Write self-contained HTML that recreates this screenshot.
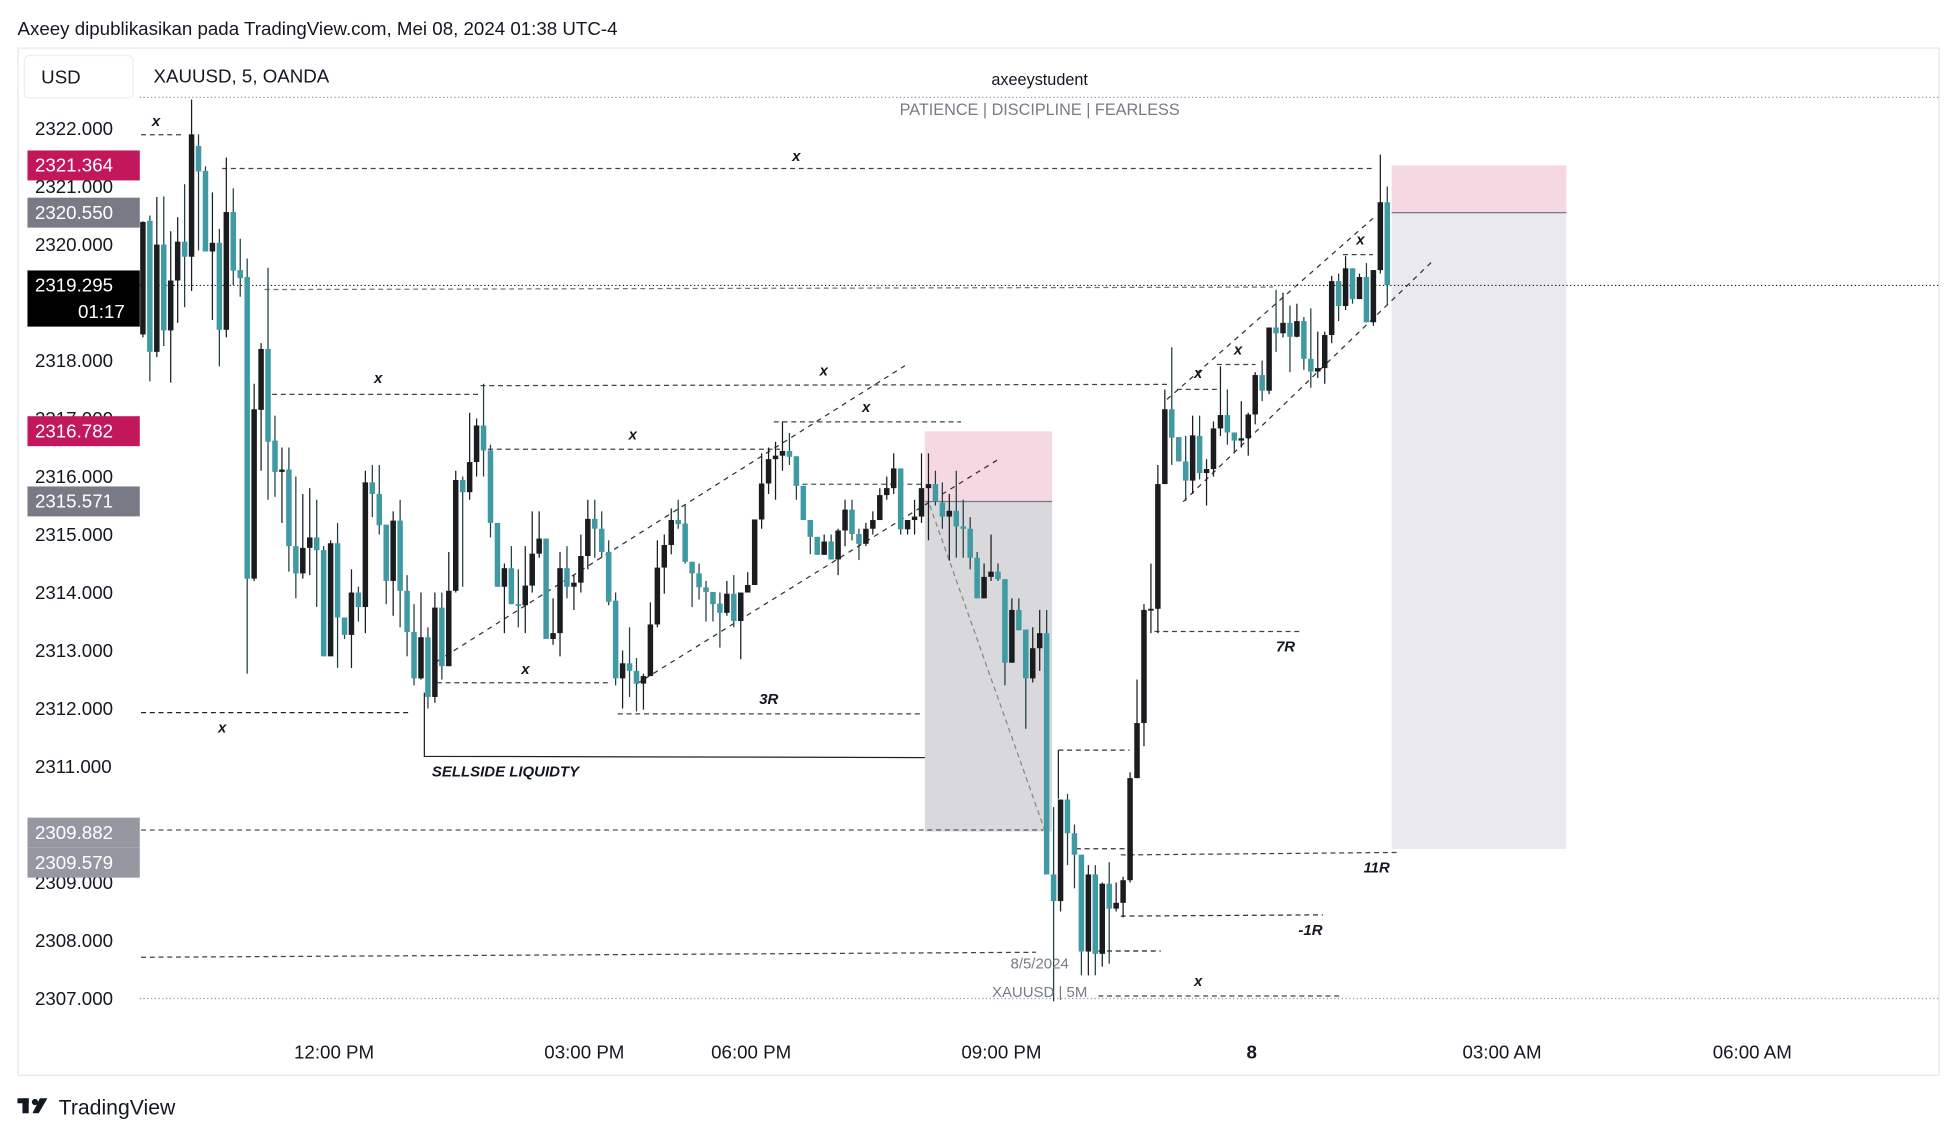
<!DOCTYPE html>
<html><head><meta charset="utf-8"><title>XAUUSD 5 chart</title>
<style>
html,body{margin:0;padding:0;background:#fff;}
svg{display:block;font-family:"Liberation Sans",Arial,sans-serif;}
</style></head>
<body>
<svg id="chart" width="1957" height="1137" viewBox="0 0 1568 911" preserveAspectRatio="none" xmlns="http://www.w3.org/2000/svg">
<rect x="0" y="0" width="1568" height="911" fill="#fff"/>
<text x="14" y="28" font-size="15" fill="#131722">Axeey dipublikasikan pada TradingView.com, Mei 08, 2024 01:38 UTC-4</text>
<rect x="14.5" y="38.5" width="1539" height="823" fill="#fff" stroke="#e6e7ea"/>
<rect x="19.5" y="44.5" width="87" height="34" rx="4" fill="#fff" stroke="#eceef2"/>
<text x="33" y="67" font-size="15" fill="#131722">USD</text>
<text x="123" y="66" font-size="15" fill="#131722">XAUUSD, 5, OANDA</text>
<line x1="112" y1="78" x2="1553" y2="78" stroke="#9598a1" stroke-dasharray="1 2"/>
<text x="833" y="68" font-size="13" fill="#131722" text-anchor="middle">axeeystudent</text>
<text x="833" y="92" font-size="13" fill="#787b86" text-anchor="middle">PATIENCE  |  DISCIPLINE  |  FEARLESS</text>
<g id="zones"></g>
<g id="drawings" stroke="#333" fill="none"></g>
<g id="candles"></g>
<g id="axis"></g>
<g id="labels"></g>
<text x="47" y="893" font-size="17" fill="#131722">TradingView</text>
<g fill="#131722"><rect x="14" y="880" width="9" height="4"/><rect x="18" y="880" width="5" height="12"/><circle cx="28" cy="883" r="2.5"/><polygon points="32,880 38,880 31,892 26,892"/></g>
</svg>
<script>
var opens=[2318.45,2320.41,2318.15,2320.0,2318.52,2319.38,2320.05,2319.79,2321.7,2321.27,2319.88,2320.03,2318.53,2320.56,2319.56,2319.44,2314.24,2317.15,2318.2,2316.62,2316.08,2316.12,2314.8,2314.33,2314.77,2314.95,2314.73,2312.9,2314.85,2313.57,2313.27,2314.0,2313.75,2315.9,2315.7,2315.17,2314.2,2315.24,2314.03,2313.32,2312.52,2313.23,2312.2,2313.74,2312.73,2314.03,2315.94,2315.73,2316.25,2316.88,2316.45,2315.2,2314.1,2314.42,2313.8,2313.78,2314.12,2314.67,2314.93,2313.2,2313.3,2314.42,2314.1,2314.17,2314.63,2315.27,2315.1,
2314.70,2313.86,2312.52,2312.78,2312.65,2312.43,2312.56,2313.45,2314.43,2314.82,2315.25,2315.19,2314.53,2314.33,2314.09,2314.01,2313.81,2313.65,2313.98,2313.51,2314.0,2314.13,2315.26,2315.88,2316.3,2316.36,2316.44,2316.35,2315.84,2315.25,2314.96,2314.65,2314.88,2314.57,2315.07,2315.43,2315.01,2314.84,2315.1,2315.25,2315.68,2315.8,2316.14,2315.09,2315.25,2315.31,2315.8,2315.87,2315.55,2315.31,2315.41,2315.14,2315.1,2314.6,2313.9,2314.27,2314.36,2314.23,2312.79,2313.7,2313.36,2312.52,2313.04,
2313.30,2309.14,2308.68,2310.43,2309.85,2309.48,2307.81,2309.14,2307.77,2308.98,2308.55,2308.65,2309.04,2310.8,2311.75,2313.7,2313.72,2315.87,2317.16,2316.68,2316.26,2315.93,2316.7,2316.06,2316.13,2316.83,2317.06,2316.76,2316.62,2316.66,2317.07,2317.75,2317.48,2318.57,2318.47,2318.65,2318.41,2318.68,2318.03,2317.81,2317.87,2318.44,2319.37,2318.94,2319.59,2319.06,2319.44,2318.66,2319.56,2320.73];
var highs=[2320.4,2320.5,2320.82,2320.83,2320.23,2320.47,2321.04,2322.5,2321.9,2321.35,2320.9,2320.27,2321.5,2320.97,2320.1,2319.76,2317.6,2318.3,2319.6,2317.05,2316.5,2316.5,2316.0,2315.7,2315.8,2315.6,2314.8,2314.9,2315.2,2313.57,2314.4,2314.1,2316.1,2316.2,2316.2,2315.17,2315.4,2315.6,2314.3,2313.8,2314.0,2313.4,2314.0,2314.0,2314.7,2316.1,2316.0,2317.1,2317.0,2317.6,2316.55,2315.2,2314.5,2314.8,2314.4,2314.8,2315.4,2315.4,2314.93,2313.9,2314.7,2314.8,2314.3,2315.0,2315.6,2315.6,2315.4,
2314.9,2314.0,2313.0,2313.4,2312.87,2312.6,2313.83,2314.9,2315.0,2315.45,2315.6,2315.5,2314.53,2314.5,2314.2,2314.0,2314.0,2314.2,2314.3,2314.0,2314.35,2315.26,2316.4,2316.5,2316.6,2316.95,2316.75,2316.35,2315.84,2315.25,2314.96,2315.0,2315.0,2315.1,2315.6,2315.6,2315.1,2315.2,2315.4,2315.8,2316.0,2316.4,2316.14,2315.25,2315.6,2316.4,2316.4,2316.1,2315.9,2315.7,2316.1,2315.6,2315.3,2314.7,2314.5,2315.0,2314.5,2314.23,2313.9,2313.9,2313.36,2313.4,2313.7,
2313.7,2310.3,2310.43,2310.53,2310.0,2309.48,2309.3,2309.3,2309.0,2309.35,2309.0,2309.1,2310.9,2312.5,2313.8,2314.5,2316.2,2317.5,2318.23,2316.68,2316.7,2317.05,2317.05,2316.3,2316.95,2317.9,2317.5,2316.76,2317.3,2317.1,2317.8,2318.0,2318.57,2319.22,2319.17,2318.95,2318.98,2318.75,2318.9,2318.5,2318.5,2319.46,2319.5,2319.8,2319.59,2319.5,2319.68,2319.56,2321.55,2321.0];
var lows=[2318.4,2317.64,2318.06,2318.25,2317.62,2318.65,2318.92,2319.2,2319.9,2319.88,2318.7,2317.9,2318.4,2319.3,2319.1,2312.6,2314.2,2316.1,2315.6,2315.65,2315.2,2314.36,2313.9,2314.24,2314.3,2313.75,2312.9,2312.9,2312.7,2313.2,2312.7,2313.5,2313.3,2315.3,2315.0,2313.8,2313.6,2313.4,2312.9,2312.4,2312.5,2312.0,2312.1,2312.5,2312.73,2314.0,2314.1,2315.6,2316.0,2316.0,2314.95,2314.1,2313.3,2313.8,2313.4,2313.3,2314.0,2314.6,2313.2,2313.1,2312.9,2313.9,2313.7,2314.0,2314.4,2314.6,2314.6,
2313.78,2312.4,2312.0,2312.2,2311.95,2311.98,2312.56,2313.4,2313.98,2314.66,2315.1,2314.5,2313.75,2313.88,2313.5,2313.5,2313.05,2313.6,2313.4,2312.85,2314.0,2314.13,2315.1,2315.7,2315.6,2316.1,2316.2,2315.6,2315.25,2314.66,2314.65,2314.65,2314.57,2314.3,2314.8,2314.9,2314.56,2314.8,2315.0,2315.25,2315.6,2315.7,2315.0,2315.0,2315.0,2315.2,2314.9,2315.5,2315.1,2314.55,2314.6,2314.6,2314.4,2313.9,2313.9,2314.2,2314.2,2312.4,2312.79,2313.35,2311.65,2312.45,2312.65,
2309.14,2306.95,2308.5,2309.3,2308.9,2307.4,2307.4,2307.4,2307.55,2307.6,2308.5,2308.4,2309.0,2310.8,2311.35,2313.3,2313.3,2315.87,2316.2,2316.26,2315.58,2315.7,2315.95,2315.5,2316.0,2316.7,2316.55,2316.4,2316.5,2316.36,2316.9,2317.3,2317.42,2318.15,2318.4,2317.8,2318.4,2317.84,2317.53,2317.7,2317.6,2318.3,2318.68,2318.87,2318.98,2319.06,2318.66,2318.6,2319.5,2318.95];
var closes=[2320.39,2318.15,2320.0,2318.52,2319.38,2320.05,2319.79,2321.9,2321.26,2319.88,2320.03,2318.53,2320.56,2319.55,2319.42,2314.24,2317.16,2318.2,2316.6,2316.08,2316.12,2314.8,2314.33,2314.77,2314.95,2314.73,2312.9,2314.85,2313.57,2313.27,2314.0,2313.75,2315.9,2315.7,2315.16,2314.2,2315.24,2314.03,2313.32,2312.52,2313.23,2312.2,2313.74,2312.73,2314.03,2315.94,2315.73,2316.25,2316.88,2316.45,2315.2,2314.1,2314.42,2313.8,2313.78,2314.12,2314.67,2314.93,2313.2,2313.3,2314.42,2314.1,2314.17,2314.63,2315.27,2315.1,2314.7,
2313.84,2312.52,2312.78,2312.65,2312.43,2312.56,2313.45,2314.43,2314.82,2315.25,2315.18,2314.53,2314.33,2314.09,2314.01,2313.8,2313.65,2313.98,2313.51,2314.0,2314.13,2315.26,2315.88,2316.3,2316.36,2316.44,2316.34,2315.84,2315.25,2314.96,2314.65,2314.88,2314.57,2315.07,2315.43,2315.01,2314.84,2315.1,2315.25,2315.68,2315.8,2316.14,2315.09,2315.25,2315.31,2315.8,2315.87,2315.57,2315.31,2315.41,2315.14,2315.1,2314.6,2313.9,2314.27,2314.36,2314.23,2312.79,2313.7,2313.35,2312.52,2313.04,2313.3,
2309.14,2308.68,2310.43,2309.85,2309.48,2307.81,2309.14,2307.77,2308.98,2308.55,2308.65,2309.04,2310.8,2311.75,2313.7,2313.72,2315.87,2317.16,2316.67,2316.26,2315.93,2316.71,2316.06,2316.13,2316.83,2317.06,2316.76,2316.62,2316.66,2317.07,2317.75,2317.48,2318.57,2318.47,2318.65,2318.41,2318.68,2318.03,2317.81,2317.87,2318.44,2319.37,2318.94,2319.59,2319.06,2319.44,2318.66,2319.56,2320.73,2319.3];
var priceTicks=[2322,2321,2320,2318,2317,2316,2315,2314,2313,2312,2311,2309,2308,2307];
var timeLabels=["12:00 PM","03:00 PM","06:00 PM","09:00 PM","8","03:00 AM","06:00 AM"];
var timeLabelIdx=[27.5,63.5,87.5,123.5,159.5,195.5,231.5];
var tagPrices=[2321.364,2320.550,2316.782,2315.571,2309.882,2309.579];
var tagColors=["#c2185b","#787b86","#c2185b","#787b86","#9598a1","#9598a1"];
var tagShift=[0,0,0,0,1,11];
var lastPrice=2319.295;

var NS="http://www.w3.org/2000/svg";
function y(p){return 103+(2322-p)*46.47;}
function x(i){return 114.5+i*5.57;}
function mk(tag,attrs,parent){var e=document.createElementNS(NS,tag);for(var k in attrs)e.setAttribute(k,attrs[k]);parent.appendChild(e);return e;}
var gz=document.getElementById('zones'),gd=document.getElementById('drawings'),gc=document.getElementById('candles'),ga=document.getElementById('axis'),gl=document.getElementById('labels');

var z;
z=mk('rect',{x:741,y:y(2316.78),width:102,height:y(2315.57)-y(2316.78),fill:'#f6d8e3'},gz);


z=mk('rect',{x:741,y:y(2315.57),width:102,height:y(2309.88)-y(2315.57),fill:'#d9d9db'},gz);


z=mk('rect',{x:1115,y:y(2321.364),width:140,height:y(2320.55)-y(2321.364),fill:'#f6d8e3'},gz);


z=mk('rect',{x:1115,y:y(2320.55),width:140,height:y(2309.579)-y(2320.55),fill:'#eaeaec'},gz);


z=mk('line',{x1:1115,y1:y(2320.55),x2:1255,y2:y(2320.55),stroke:'#787b86'},gz);


z=mk('line',{x1:741,y1:y(2315.57),x2:843,y2:y(2315.57),stroke:'#787b86'},gz);



var lines=[
[113,108,145,108,'4 3','#444'],[178,135,1100,135,'4 3','#444'],[212,232,1020,230,'4 3','#777'],
[218,316,385,316,'4 3','#444'],[385,309,935,308,'4 3','#444'],[391,360,625,360,'4 3','#444'],
[620,338,770,338,'4 3','#444'],[636,388,738,388,'4 3','#555'],[350,530,725,293,'4 4','#333'],
[510,548,800,368,'4 4','#333'],[350,547,490,547,'4 3','#444'],[495,572,737,572,'4 3','#444'],
[113,571,328,571,'4 3','#222'],[745,405,837,665,'4 3','#888'],[113,665,836,665,'4 3','#555'],
[113,767,830,763,'4 3','#444'],[848,601,905,601,'4 3','#333'],[862,680,905,680,'4 3','#333'],
[898,685,1120,683,'4 3','#444'],[898,734,1060,733,'4 3','#333'],[880,762,930,762,'4 3','#222'],
[880,798,1075,798,'4 3','#444'],[925,506,1042,506,'4 3','#444'],[935,320,1100,175,'4 4','#333'],
[948,402,1147,210,'4 4','#333'],[943,312,975,312,'4 3','#444'],[975,292,1006,292,'4 3','#444'],[1076,204,1100,204,'4 3','#444']];
lines.forEach(function(l,i){var e=mk('line',{x1:l[0],y1:l[1],x2:l[2],y2:l[3],stroke:l[5],'stroke-dasharray':l[4],'stroke-width':1},gd);

});
var sl=mk('polyline',{points:'340,555 340,606 741,607',stroke:'#222',fill:'none'},gd);


mk('line',{x1:848,y1:601,x2:848,y2:640,stroke:'#222'},gd);
mk('line',{x1:112,y1:y(lastPrice),x2:1553,y2:y(lastPrice),stroke:'#131722','stroke-dasharray':'1 2'},gd);
mk('line',{x1:112,y1:y(2307),x2:1553,y2:y(2307),stroke:'#9598a1','stroke-dasharray':'1 2'},gd);

var texts=[["x",125,101],["x",638,129],["x",303,307],["x",660,301],["x",507,352],["x",694,330],["x",421,540],["x",178,587],["x",960,790],["x",960,303],["x",992,284],["x",1090,196],
["3R",616,564],["7R",1030,522],["11R",1103,699],["-1R",1050,749],["SELLSIDE LIQUIDTY",405,622]];
texts.forEach(function(t){var e=mk('text',{x:t[1],y:t[2],'font-size':12,'font-weight':'bold','font-style':'italic',fill:'#131722','text-anchor':'middle'},gl);e.textContent=t[0];

});
var d1=mk('text',{x:833,y:776,'font-size':12,fill:'#787b86','text-anchor':'middle'},gl);d1.textContent='8/5/2024';


var d2=mk('text',{x:833,y:799,'font-size':12,fill:'#787b86','text-anchor':'middle'},gl);d2.textContent='XAUUSD | 5M';



for(var i=0;i<opens.length;i++){
 var up=closes[i]>=opens[i];var col=up?'#1b1c1f':'#3f9aa3';var cx=x(i);
 var g=mk('g',{},gc);
 
 
 mk('line',{x1:cx,y1:y(highs[i]),x2:cx,y2:y(lows[i]),stroke:up?'#1b1c1f':'#1f3f44','stroke-width':1},g);
 var t=y(Math.max(opens[i],closes[i])),b=y(Math.min(opens[i],closes[i]));
 mk('rect',{x:cx-2.2,y:t,width:4.4,height:Math.max(1.5,b-t),fill:col},g);
}

priceTicks.forEach(function(p){var e=mk('text',{x:28,y:y(p)+5,'font-size':15,fill:'#131722'},ga);e.textContent=p.toFixed(3);

});
timeLabels.forEach(function(s,k){var e=mk('text',{x:x(timeLabelIdx[k]),y:848,'font-size':15,fill:'#131722','text-anchor':'middle','font-weight':s==='8'?'bold':'normal'},ga);e.textContent=s;

});
tagPrices.forEach(function(p,k){var yy=y(p)+tagShift[k];var r=mk('rect',{x:22,y:yy-12,width:90,height:24,fill:tagColors[k]},ga);


var e=mk('text',{x:28,y:yy+5,'font-size':15,fill:'#fff'},ga);e.textContent=p.toFixed(3);

});
var ly=y(lastPrice);
var lr=mk('rect',{x:22,y:ly-12,width:90,height:45,fill:'#000'},ga);


var lt=mk('text',{x:28,y:ly+5,'font-size':15,fill:'#fff'},ga);lt.textContent=lastPrice.toFixed(3);


var ct=mk('text',{x:100,y:ly+26,'font-size':15,fill:'#fff','text-anchor':'end'},ga);ct.textContent='01:17';


</script>
</body></html>
